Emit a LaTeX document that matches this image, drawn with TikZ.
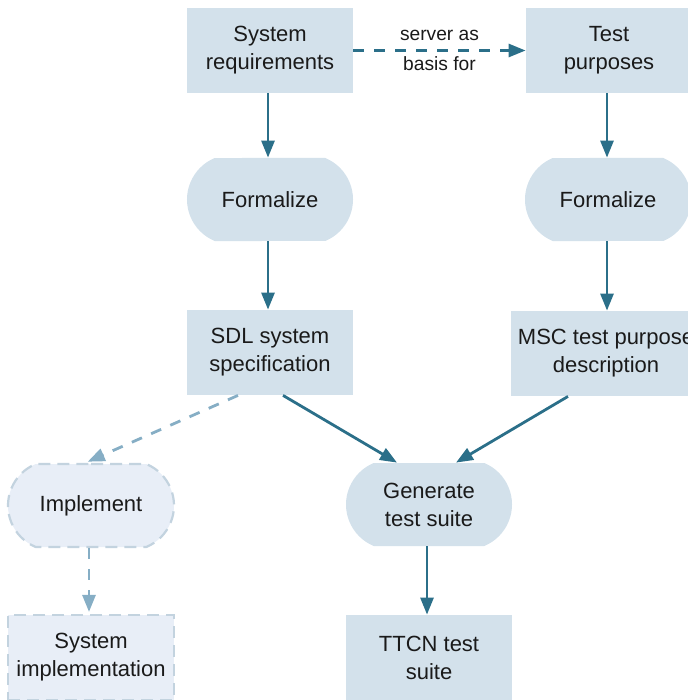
\documentclass[tikz,border=0pt]{standalone}
\usepackage{fontspec}
\setmainfont{Liberation Sans}
\usetikzlibrary{arrows.meta,shapes.misc,calc}

\definecolor{boxfill}{HTML}{D3E1EB}
\definecolor{flow}{HTML}{2B6F89}
\definecolor{ghostfill}{HTML}{E8EEF7}
\definecolor{ghostline}{HTML}{C3D3DF}
\definecolor{ghostflow}{HTML}{86AEC5}
\definecolor{ink}{HTML}{1A1A1A}

\begin{document}
\begin{tikzpicture}[x=0.5pt,y=-0.5pt,
  every node/.style={font=\fontsize{11}{14}\selectfont, text=ink, align=center, inner sep=0pt},
  docbox/.style={rectangle, fill=boxfill, minimum width=83pt, minimum height=42.5pt},
  actbox/.style={rounded rectangle, rounded rectangle arc length=135, fill=boxfill,
                 minimum width=83pt, minimum height=41.5pt},
  ghostdash/.style={draw=ghostline, line width=1.1pt, dash pattern=on 6pt off 3.5pt},
  ghostdoc/.style={docbox, fill=ghostfill, ghostdash},
  ghostact/.style={actbox, fill=ghostfill, ghostdash},
  flowarrow/.style={draw=flow, line width=1.4pt, -{Triangle[length=8.5pt,width=6.5pt]}},
  basisarrow/.style={flowarrow, dash pattern=on 5.5pt off 5pt},
  ghostarrow/.style={draw=ghostflow, line width=1.4pt, dash pattern=on 5.5pt off 5pt,
                     -{Triangle[length=8.5pt,width=6.5pt]}},
  edgelabel/.style={font=\fontsize{9.6}{15}\selectfont, align=center}
]
\useasboundingbox (0,0) rectangle (688,700);
\clip (0,0) rectangle (688,700);

% documents and activities
\node[docbox] (sysreq) at (270,50.5) {System\\requirements};
\node[docbox] (testp)  at (609,50.5) {Test\\purposes};
\node[actbox] (form1)  at (270,199.5) {Formalize};
\node[actbox] (form2)  at (608,199.5) {Formalize};
\node[docbox] (sdl)    at (270,352.5) {SDL system\\specification};
\node[docbox, minimum width=95pt] (msc) at (606,353.5) {MSC test purpose\\description};
\node[ghostact] (impl) at (91,505.5) {Implement};
\node[actbox] (gen)    at (429,504.5) {Generate\\test suite};
\node[ghostdoc] (sysimpl) at (91,657.5) {System\\implementation};
\node[docbox] (ttcn)   at (429,657.5) {TTCN test\\suite};

% connectors
\draw[basisarrow] (sysreq.east) -- (testp.west)
  node[edgelabel, midway] {server as\\basis for};
\draw[flowarrow] ([xshift=-1pt]sysreq.south) -- ([xshift=-1pt]form1.north);
\draw[flowarrow] ([xshift=-1pt]testp.south) -- ([xshift=-0.5pt]form2.north);
\draw[flowarrow] ([xshift=-1pt]form1.south) -- ([xshift=-1pt]sdl.north);
\draw[flowarrow] ([xshift=-0.5pt]form2.south) -- ([xshift=0.5pt]msc.north);
\draw[flowarrow] ([xshift=6.5pt]sdl.south) -- ([xshift=-16pt]gen.north);
\draw[flowarrow] ([xshift=-19pt]msc.south) -- ([xshift=13.5pt]gen.north);
\draw[flowarrow] ([xshift=-1pt]gen.south) -- ([xshift=-1pt]ttcn.north);
\draw[ghostarrow, shorten >=1.5pt] ([xshift=-16pt]sdl.south) -- ([xshift=-3pt]impl.north);
\draw[ghostarrow, shorten >=1pt] ([xshift=-1pt]impl.south) -- ([xshift=-1pt]sysimpl.north);
\end{tikzpicture}
\end{document}
